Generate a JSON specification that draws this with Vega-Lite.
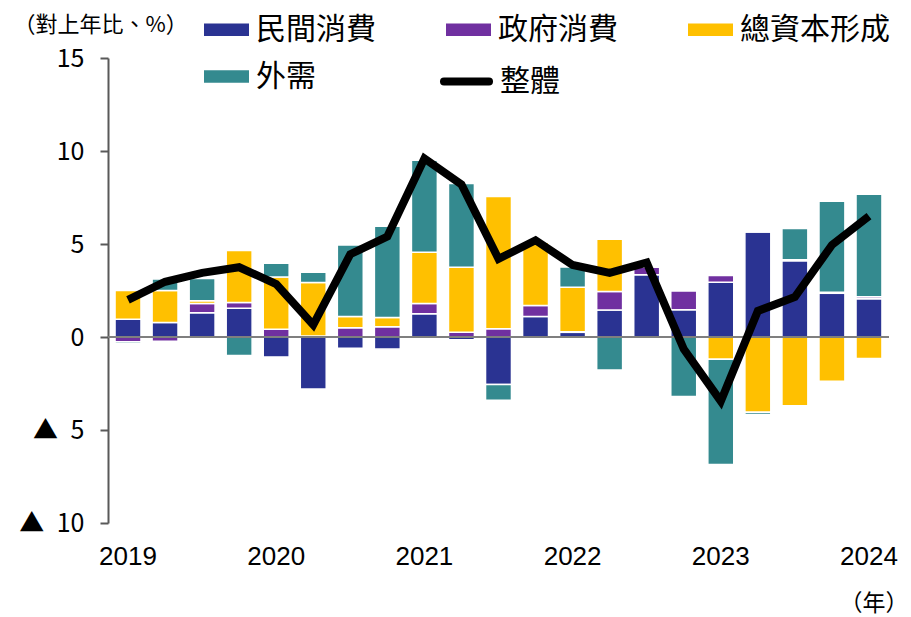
{
  "$schema": "https://vega.github.io/schema/vega-lite/v6.json",
  "width": 781,
  "height": 465,
  "autosize": {"type": "none"},
  "padding": {"left": 108, "top": 58, "right": 22, "bottom": 94},
  "background": "white",
  "config": {"view": {"stroke": null}, "font": "Liberation Sans"},
  "datasets": {
    "bars": [
      {"q": "2019Q1", "cat": "民間消費", "o": 1, "v": 0.95},
      {"q": "2019Q1", "cat": "政府消費", "o": 2, "v": -0.25},
      {"q": "2019Q1", "cat": "總資本形成", "o": 3, "v": 1.55},
      {"q": "2019Q1", "cat": "外需", "o": 4, "v": -0.1},
      {"q": "2019Q2", "cat": "民間消費", "o": 1, "v": 0.78},
      {"q": "2019Q2", "cat": "政府消費", "o": 2, "v": -0.23},
      {"q": "2019Q2", "cat": "總資本形成", "o": 3, "v": 1.72},
      {"q": "2019Q2", "cat": "外需", "o": 4, "v": 0.62},
      {"q": "2019Q3", "cat": "民間消費", "o": 1, "v": 1.3},
      {"q": "2019Q3", "cat": "政府消費", "o": 2, "v": 0.5},
      {"q": "2019Q3", "cat": "總資本形成", "o": 3, "v": 0.15},
      {"q": "2019Q3", "cat": "外需", "o": 4, "v": 1.2},
      {"q": "2019Q4", "cat": "民間消費", "o": 1, "v": 1.55},
      {"q": "2019Q4", "cat": "政府消費", "o": 2, "v": 0.3},
      {"q": "2019Q4", "cat": "總資本形成", "o": 3, "v": 2.8},
      {"q": "2019Q4", "cat": "外需", "o": 4, "v": -1.0},
      {"q": "2020Q1", "cat": "民間消費", "o": 1, "v": -1.07},
      {"q": "2020Q1", "cat": "政府消費", "o": 2, "v": 0.42},
      {"q": "2020Q1", "cat": "總資本形成", "o": 3, "v": 2.8},
      {"q": "2020Q1", "cat": "外需", "o": 4, "v": 0.75},
      {"q": "2020Q2", "cat": "民間消費", "o": 1, "v": -2.8},
      {"q": "2020Q2", "cat": "政府消費", "o": 2, "v": 0.05},
      {"q": "2020Q2", "cat": "總資本形成", "o": 3, "v": 2.88},
      {"q": "2020Q2", "cat": "外需", "o": 4, "v": 0.55},
      {"q": "2020Q3", "cat": "民間消費", "o": 1, "v": -0.6},
      {"q": "2020Q3", "cat": "政府消費", "o": 2, "v": 0.5},
      {"q": "2020Q3", "cat": "總資本形成", "o": 3, "v": 0.6},
      {"q": "2020Q3", "cat": "外需", "o": 4, "v": 3.85},
      {"q": "2020Q4", "cat": "民間消費", "o": 1, "v": -0.65},
      {"q": "2020Q4", "cat": "政府消費", "o": 2, "v": 0.55},
      {"q": "2020Q4", "cat": "總資本形成", "o": 3, "v": 0.5},
      {"q": "2020Q4", "cat": "外需", "o": 4, "v": 4.9},
      {"q": "2021Q1", "cat": "民間消費", "o": 1, "v": 1.25},
      {"q": "2021Q1", "cat": "政府消費", "o": 2, "v": 0.55},
      {"q": "2021Q1", "cat": "總資本形成", "o": 3, "v": 2.75},
      {"q": "2021Q1", "cat": "外需", "o": 4, "v": 4.95},
      {"q": "2021Q2", "cat": "民間消費", "o": 1, "v": -0.15},
      {"q": "2021Q2", "cat": "政府消費", "o": 2, "v": 0.25},
      {"q": "2021Q2", "cat": "總資本形成", "o": 3, "v": 3.5},
      {"q": "2021Q2", "cat": "外需", "o": 4, "v": 4.5},
      {"q": "2021Q3", "cat": "民間消費", "o": 1, "v": -2.55},
      {"q": "2021Q3", "cat": "政府消費", "o": 2, "v": 0.45},
      {"q": "2021Q3", "cat": "總資本形成", "o": 3, "v": 7.1},
      {"q": "2021Q3", "cat": "外需", "o": 4, "v": -0.85},
      {"q": "2021Q4", "cat": "民間消費", "o": 1, "v": 1.1},
      {"q": "2021Q4", "cat": "政府消費", "o": 2, "v": 0.6},
      {"q": "2021Q4", "cat": "總資本形成", "o": 3, "v": 3.4},
      {"q": "2021Q4", "cat": "外需", "o": 4, "v": 0},
      {"q": "2022Q1", "cat": "民間消費", "o": 1, "v": 0.25},
      {"q": "2022Q1", "cat": "政府消費", "o": 2, "v": 0.03},
      {"q": "2022Q1", "cat": "總資本形成", "o": 3, "v": 2.4},
      {"q": "2022Q1", "cat": "外需", "o": 4, "v": 1.08},
      {"q": "2022Q2", "cat": "民間消費", "o": 1, "v": 1.45},
      {"q": "2022Q2", "cat": "政府消費", "o": 2, "v": 1.0},
      {"q": "2022Q2", "cat": "總資本形成", "o": 3, "v": 2.8},
      {"q": "2022Q2", "cat": "外需", "o": 4, "v": -1.78},
      {"q": "2022Q3", "cat": "民間消費", "o": 1, "v": 3.35},
      {"q": "2022Q3", "cat": "政府消費", "o": 2, "v": 0.4},
      {"q": "2022Q3", "cat": "總資本形成", "o": 3, "v": 0},
      {"q": "2022Q3", "cat": "外需", "o": 4, "v": 0},
      {"q": "2022Q4", "cat": "民間消費", "o": 1, "v": 1.47},
      {"q": "2022Q4", "cat": "政府消費", "o": 2, "v": 1.02},
      {"q": "2022Q4", "cat": "總資本形成", "o": 3, "v": 0},
      {"q": "2022Q4", "cat": "外需", "o": 4, "v": -3.2},
      {"q": "2023Q1", "cat": "民間消費", "o": 1, "v": 2.95},
      {"q": "2023Q1", "cat": "政府消費", "o": 2, "v": 0.35},
      {"q": "2023Q1", "cat": "總資本形成", "o": 3, "v": -1.2},
      {"q": "2023Q1", "cat": "外需", "o": 4, "v": -5.65},
      {"q": "2023Q2", "cat": "民間消費", "o": 1, "v": 5.65},
      {"q": "2023Q2", "cat": "政府消費", "o": 2, "v": 0},
      {"q": "2023Q2", "cat": "總資本形成", "o": 3, "v": -4.05},
      {"q": "2023Q2", "cat": "外需", "o": 4, "v": -0.12},
      {"q": "2023Q3", "cat": "民間消費", "o": 1, "v": 4.1},
      {"q": "2023Q3", "cat": "政府消費", "o": 2, "v": 0.05},
      {"q": "2023Q3", "cat": "總資本形成", "o": 3, "v": -3.7},
      {"q": "2023Q3", "cat": "外需", "o": 4, "v": 1.68},
      {"q": "2023Q4", "cat": "民間消費", "o": 1, "v": 2.35},
      {"q": "2023Q4", "cat": "政府消費", "o": 2, "v": 0.05},
      {"q": "2023Q4", "cat": "總資本形成", "o": 3, "v": -2.38},
      {"q": "2023Q4", "cat": "外需", "o": 4, "v": 4.9},
      {"q": "2024Q1", "cat": "民間消費", "o": 1, "v": 2.05},
      {"q": "2024Q1", "cat": "政府消費", "o": 2, "v": 0.12},
      {"q": "2024Q1", "cat": "總資本形成", "o": 3, "v": -1.15},
      {"q": "2024Q1", "cat": "外需", "o": 4, "v": 5.5}
    ],
    "line": [
      {"q": "2019Q1", "s": "整體", "t": 2.0},
      {"q": "2019Q2", "s": "整體", "t": 2.97},
      {"q": "2019Q3", "s": "整體", "t": 3.45},
      {"q": "2019Q4", "s": "整體", "t": 3.75},
      {"q": "2020Q1", "s": "整體", "t": 2.85},
      {"q": "2020Q2", "s": "整體", "t": 0.65},
      {"q": "2020Q3", "s": "整體", "t": 4.45},
      {"q": "2020Q4", "s": "整體", "t": 5.4},
      {"q": "2021Q1", "s": "整體", "t": 9.6},
      {"q": "2021Q2", "s": "整體", "t": 8.2},
      {"q": "2021Q3", "s": "整體", "t": 4.2},
      {"q": "2021Q4", "s": "整體", "t": 5.2},
      {"q": "2022Q1", "s": "整體", "t": 3.87},
      {"q": "2022Q2", "s": "整體", "t": 3.45},
      {"q": "2022Q3", "s": "整體", "t": 4.0},
      {"q": "2022Q4", "s": "整體", "t": -0.65},
      {"q": "2023Q1", "s": "整體", "t": -3.45},
      {"q": "2023Q2", "s": "整體", "t": 1.4},
      {"q": "2023Q3", "s": "整體", "t": 2.15},
      {"q": "2023Q4", "s": "整體", "t": 4.95},
      {"q": "2024Q1", "s": "整體", "t": 6.5}
    ]
  },
  "layer": [
    {
      "data": {"name": "bars"},
      "mark": {"type": "bar", "stroke": "white", "strokeWidth": 1.5},
      "encoding": {
        "x": {
          "field": "q", "type": "ordinal", "sort": null,
          "scale": {"paddingInner": 0.3, "paddingOuter": 0.19},
          "axis": {
            "title": "（年）",
            "labelExpr": "slice(datum.value, 4) === 'Q1' ? slice(datum.value, 0, 4) : ''",
            "labelAngle": 0, "domain": false, "ticks": false, "labelOverlap": false,
            "labelFont": "Liberation Sans", "labelFontSize": 26, "labelPadding": 20, "labelColor": "black",
            "titleFont": "Noto Sans CJK TC", "titleFontSize": 23, "titleFontWeight": "normal", "titleColor": "black",
            "titleX": 800, "titleY": 80, "titleAlign": "right", "titleBaseline": "middle", "titleAnchor": null
          }
        },
        "y": {
          "field": "v", "type": "quantitative", "stack": "zero",
          "scale": {"domain": [-10, 15], "nice": false},
          "axis": {
            "title": "（對上年比、%）",
            "values": [-10, -5, 0, 5, 10, 15],
            "labelExpr": "datum.value < 0 ? '▲\u2002' + abs(datum.value) : '' + datum.value",
            "grid": false,
            "domainColor": "#595959", "domainWidth": 2,
            "tickColor": "#595959", "tickWidth": 2, "tickSize": 8,
            "labelPadding": 16, "labelFont": "Noto Sans CJK TC", "labelFontSize": 25, "labelColor": "black",
            "titleFont": "Noto Sans CJK TC", "titleFontSize": 22, "titleFontWeight": "normal", "titleColor": "black",
            "titleAngle": 0, "titleX": -95, "titleY": -34, "titleAlign": "left", "titleBaseline": "middle", "titleAnchor": null
          }
        },
        "color": {
          "field": "cat", "type": "nominal",
          "scale": {
            "domain": ["民間消費", "政府消費", "總資本形成", "外需"],
            "range": ["#2A3392", "#7030A0", "#FFC000", "#348A8F"]
          },
          "legend": {
            "orient": "none", "legendX": 96, "legendY": -51,
            "direction": "horizontal", "columns": 3, "title": null,
            "symbolType": "M-1,-0.28H1V0.28H-1Z", "symbolSize": 2025, "symbolStrokeWidth": 0,
            "labelFont": "Noto Sans CJK TC", "labelFontSize": 30, "labelColor": "black", "labelOffset": 7,
            "columnPadding": 70, "rowPadding": 9, "padding": 0
          }
        },
        "order": {"field": "o", "type": "quantitative"}
      }
    },
    {
      "data": {"values": [{}]},
      "mark": {"type": "rule", "color": "#7f7f7f", "strokeWidth": 2},
      "encoding": {"y": {"datum": 0}}
    },
    {
      "data": {"name": "line"},
      "mark": {"type": "line", "strokeWidth": 8},
      "encoding": {
        "x": {"field": "q", "type": "ordinal", "sort": null},
        "y": {"field": "t", "type": "quantitative"},
        "stroke": {
          "field": "s", "type": "nominal",
          "scale": {"domain": ["整體"], "range": ["black"]},
          "legend": {
            "orient": "none", "legendX": 332, "legendY": -3, "title": null,
            "symbolType": "stroke", "symbolSize": 2025, "symbolStrokeWidth": 8,
            "labelFont": "Noto Sans CJK TC", "labelFontSize": 30, "labelColor": "black", "labelOffset": 7,
            "padding": 0,
            "encode": {"symbols": {"update": {"strokeCap": {"value": "round"}}}}
          }
        }
      }
    }
  ]
}
